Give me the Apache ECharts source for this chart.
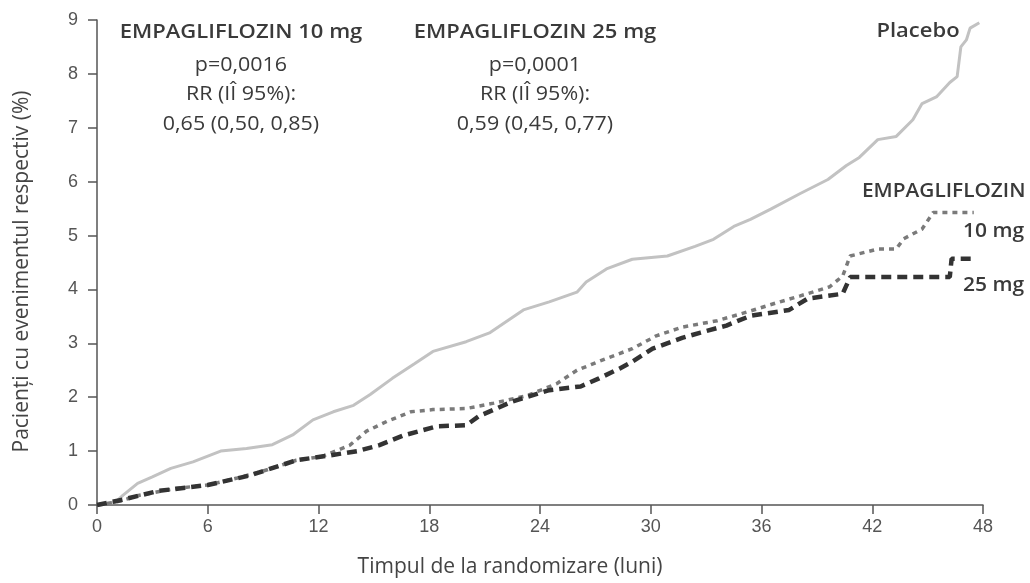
<!DOCTYPE html>
<html>
<head>
<meta charset="utf-8">
<script src="https://cdn.jsdelivr.net/npm/echarts@6/dist/echarts.min.js"></script>
<style>
html,body{margin:0;padding:0;background:#fff;}
#chart{width:1030px;height:583px;}
</style>
</head>
<body>
<div id="chart"></div>
<script>
// ---- data (months, cumulative % of patients with event) ----
const xTicks = [0, 6, 12, 18, 24, 30, 36, 42, 48];
const yTicks = [0, 1, 2, 3, 4, 5, 6, 7, 8, 9];

const placeboMonths = [0,1.0,1.4,2.2,3.0,4.0,5.2,6.7,8.1,9.5,10.6,11.7,12.8,13.9,14.8,16.0,17.2,18.2,20.0,21.3,23.1,24.5,26.0,26.5,27.6,29.0,30.9,32.4,33.4,34.5,35.4,36.5,38.1,39.6,40.6,41.3,42.3,43.3,44.2,44.7,45.5,46.2,46.6,46.8,47.1,47.3,47.8];
const placeboValues = [0,0.05,0.18,0.40,0.52,0.68,0.80,1.0,1.05,1.12,1.30,1.58,1.73,1.85,2.05,2.35,2.62,2.85,3.03,3.2,3.62,3.77,3.95,4.14,4.38,4.56,4.62,4.8,4.93,5.17,5.3,5.49,5.78,6.04,6.30,6.45,6.78,6.84,7.15,7.45,7.58,7.84,7.95,8.5,8.63,8.85,8.95];

const empa10Months = [0,1.0,2.3,4.3,6.0,7.6,9.0,10.8,12.2,13.7,14.6,15.7,17.0,18.2,20.0,21.5,23.3,24.9,26.0,27.6,29.0,30.3,31.7,33.6,35.4,36.8,38.1,39.7,40.4,40.8,42.3,43.3,43.7,44.7,45.3,47.5];
const empa10Values = [0,0.05,0.18,0.31,0.37,0.50,0.63,0.83,0.90,1.11,1.37,1.55,1.73,1.77,1.79,1.89,2.03,2.25,2.5,2.72,2.9,3.14,3.3,3.42,3.6,3.75,3.88,4.05,4.25,4.62,4.75,4.75,4.94,5.12,5.43,5.43];

const empa25Months = [0,1.4,3.3,6.0,8.3,10.8,12.6,14.1,15.3,16.6,18.4,20.0,20.7,22.5,24.5,26.2,27.2,28.3,29.0,30.1,31.7,32.7,34.1,35.4,37.5,38.5,40.4,40.8,46.2,46.3,47.5];
const empa25Values = [0,0.10,0.26,0.37,0.55,0.83,0.92,1.0,1.11,1.29,1.46,1.48,1.65,1.92,2.13,2.2,2.35,2.53,2.66,2.9,3.1,3.2,3.33,3.51,3.62,3.83,3.92,4.23,4.23,4.57,4.57];

const xAxisName = 'Timpul de la randomizare (luni)';
const yAxisName = 'Pacienți cu evenimentul respectiv (%)';
const annot10 = ['EMPAGLIFLOZIN 10 mg', 'p=0,0016', 'RR (IÎ 95%):', '0,65 (0,50, 0,85)'];
const annot25 = ['EMPAGLIFLOZIN 25 mg', 'p=0,0001', 'RR (IÎ 95%):', '0,59 (0,45, 0,77)'];
const seriesLabels = ['Placebo', 'EMPAGLIFLOZIN', '10 mg', '25 mg'];

function zip(a, b) { return a.map((v, i) => [v, b[i]]); }

const chart = echarts.init(document.getElementById('chart'), null, {renderer: 'canvas'});
const txtFont = '"Open Sans"';
const txtColor = '#3a3a3a';

function txt(t, x, y, align, weight, size, sx) {
  return {type: 'text', x: x, y: y, z: 10, scaleX: sx || 1.1,
    style: {text: t, align: align, verticalAlign: 'middle',
      font: weight + ' ' + size + 'px ' + txtFont, fill: txtColor}};
}
function annotBlock(lines, cx) {
  const ys = [32, 65, 94, 124];
  return lines.map((t, i) => txt(t, cx, ys[i], 'center', i === 0 ? 600 : 500, i === 0 ? 20 : 19.5));
}

const option = {
  backgroundColor: '#fff',
  animation: false,
  grid: {left: 97, right: 47, top: 20, bottom: 76, containLabel: false},
  xAxis: {
    type: 'value', min: 0, max: 48, interval: 6,
    name: xAxisName, nameLocation: 'middle', nameGap: 52,
    nameTextStyle: {fontFamily: txtFont, fontSize: 21, color: '#444', padding: [0, 60, 0, 0]},
    axisLine: {show: true, lineStyle: {color: '#555', width: 1.5}},
    axisTick: {show: true, length: 9, lineStyle: {color: '#555', width: 1.5}},
    axisLabel: {color: '#555', fontSize: 18, fontFamily: 'Liberation Sans', margin: 13,
      formatter: v => xTicks.includes(v) ? String(v) : ''},
    splitLine: {show: false}
  },
  yAxis: {
    type: 'value', min: 0, max: 9, interval: 1,
    name: yAxisName, nameLocation: 'middle', nameGap: 64,
    nameTextStyle: {fontFamily: txtFont, fontSize: 21, color: '#444', padding: [0, 18, 0, 0]},
    axisLine: {show: true, lineStyle: {color: '#555', width: 1.5}},
    axisTick: {show: true, length: 9, lineStyle: {color: '#555', width: 1.5}},
    axisLabel: {color: '#555', fontSize: 18, fontFamily: 'Liberation Sans', margin: 19,
      formatter: v => yTicks.includes(v) ? String(v) : ''},
    splitLine: {show: false}
  },
  series: [
    {name: 'Placebo', type: 'line', data: zip(placeboMonths, placeboValues), showSymbol: false,
      lineStyle: {color: '#c2c2c2', width: 3}, z: 1},
    {name: 'EMPAGLIFLOZIN 10 mg', type: 'line', data: zip(empa10Months, empa10Values), showSymbol: false,
      lineStyle: {color: '#7a7a7a', width: 3.5, type: [5, 5]}, z: 2},
    {name: 'EMPAGLIFLOZIN 25 mg', type: 'line', data: zip(empa25Months, empa25Values), showSymbol: false,
      lineStyle: {color: '#333', width: 4.5, type: [10, 6]}, z: 3}
  ],
  graphic: [
    ...annotBlock(annot10, 241),
    ...annotBlock(annot25, 535),
    txt(seriesLabels[0], 918, 31, 'center', 600, 20),
    txt(seriesLabels[1], 862, 191, 'left', 600, 20, 1.04),
    txt(seriesLabels[2], 963, 231, 'left', 600, 20, 1.05),
    txt(seriesLabels[3], 963, 285, 'left', 600, 20, 1.05)
  ]
};
chart.setOption(option);
</script>
</body>
</html>
